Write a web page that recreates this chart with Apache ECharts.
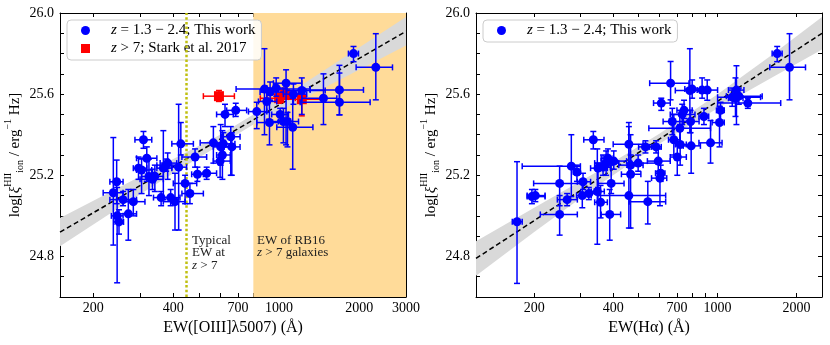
<!DOCTYPE html>
<html>
<head>
<meta charset="utf-8">
<script src="https://cdn.jsdelivr.net/npm/echarts@6/dist/echarts.min.js"></script>
<style>
  html, body { margin: 0; padding: 0; background: #fff; }
  #chart { width: 830px; height: 345px; }
</style>
</head>
<body>
<div id="chart"></div>
<script>
// rows: [EW, log xi, EW low, EW high, xi low, xi high]
var oiiiThisWork = [
  [238, 25.114, 218, 259, 24.856, 25.386], [245, 25.168, 231, 259, 25.06, 25.275],
  [246, 25.00, 234, 259, 24.67, 25.14], [250, 24.97, 239, 260, 24.91, 25.03],
  [259, 25.08, 231, 291, 25.05, 25.12], [271, 25.01, 248, 291, 24.88, 25.13],
  [283, 25.07, 259, 313, 25.00, 25.13], [309, 25.375, 287, 332, 25.333, 25.416],
  [296, 25.235, 283, 318, 25.18, 25.29], [304, 25.226, 291, 332, 25.11, 25.28],
  [318, 25.284, 291, 347, 25.17, 25.34], [324, 25.194, 304, 347, 25.10, 25.28],
  [334, 25.18, 300, 367, 25.13, 25.23], [341, 25.195, 322, 367, 25.12, 25.25],
  [360, 25.09, 337, 389, 25.05, 25.12], [367, 25.235, 347, 395, 25.08, 25.42],
  [376, 25.25, 347, 412, 25.22, 25.28], [381, 25.26, 357, 412, 25.18, 25.31],
  [391, 25.09, 367, 424, 25.05, 25.13], [406, 25.07, 367, 443, 24.93, 25.21],
  [419, 25.24, 395, 449, 24.93, 25.55], [427, 25.355, 395, 476, 25.30, 25.46],
  [443, 25.16, 400, 490, 25.06, 25.20], [462, 25.11, 431, 519, 25.06, 25.16],
  [483, 25.29, 431, 534, 25.24, 25.33], [493, 25.205, 469, 519, 25.17, 25.24],
  [534, 25.21, 490, 582, 25.18, 25.24], [566, 25.36, 505, 626, 25.26, 25.44],
  [600, 25.27, 566, 655, 25.19, 25.29], [603, 25.34, 566, 655, 25.25, 25.45],
  [612, 25.30, 582, 655, 25.18, 25.42], [626, 25.50, 582, 673, 25.44, 25.55],
  [658, 25.39, 608, 713, 25.20, 25.44], [664, 25.34, 621, 713, 25.20, 25.41],
  [687, 25.52, 635, 755, 25.49, 25.555], [617, 25.355, 582, 682, 25.30, 25.41],
  [824, 25.514, 767, 899, 25.43, 25.56], [881, 25.625, 689, 1308, 25.40, 25.824],
  [925, 25.61, 848, 1038, 25.57, 25.66], [920, 25.46, 824, 1038, 25.35, 25.57],
  [899, 25.564, 836, 980, 25.51, 25.63], [975, 25.63, 899, 1068, 25.59, 25.68],
  [1062, 25.654, 952, 1217, 25.35, 25.72], [1009, 25.50, 938, 1084, 25.47, 25.53],
  [1038, 25.465, 899, 1100, 25.36, 25.53], [1075, 25.465, 994, 1183, 25.34, 25.51],
  [1125, 25.437, 980, 1340, 25.23, 25.58], [1132, 25.60, 1038, 1270, 25.55, 25.65],
  [1217, 25.618, 1068, 1490, 25.50, 25.68], [1468, 25.58, 1217, 1648, 25.45, 25.70],
  [1686, 25.621, 1308, 2076, 25.498, 25.742], [1686, 25.56, 1200, 2199, 25.498, 25.704],
  [1904, 25.80, 1822, 1988, 25.76, 25.835], [2310, 25.732, 1948, 2669, 25.572, 25.898]
];
var oiiiStark = [
  [594, 25.59, 519, 679, 25.564, 25.618], [1000, 25.58, 850, 1150, 25.555, 25.605],
  [1053, 25.60, 900, 1200, 25.58, 25.63], [1217, 25.575, 1000, 1468, 25.493, 25.62]
];
var haThisWork = [
  [172, 24.971, 165, 180, 24.667, 25.267], [196, 25.095, 188, 220, 25.06, 25.13],
  [202, 25.10, 188, 220, 25.07, 25.13], [250, 25.16, 199, 309, 25.05, 25.245],
  [250, 25.007, 211, 292, 24.905, 25.10], [277, 25.245, 180, 300, 25.095, 25.40],
  [291, 25.216, 282, 300, 25.17, 25.25], [307, 25.168, 292, 328, 25.13, 25.21],
  [305, 25.10, 290, 330, 25.04, 25.16], [267, 25.08, 245, 292, 25.05, 25.11],
  [323, 25.11, 300, 350, 25.08, 25.14], [336, 25.375, 309, 369, 25.33, 25.416],
  [350, 25.235, 328, 380, 25.14, 25.26], [348, 25.12, 330, 370, 24.86, 25.33],
  [358, 25.067, 340, 380, 24.99, 25.15], [366, 25.24, 345, 390, 25.20, 25.30],
  [376, 25.26, 340, 420, 25.20, 25.32], [382, 25.284, 360, 400, 25.24, 25.33],
  [388, 25.007, 360, 427, 24.88, 25.13], [393, 25.16, 350, 440, 25.11, 25.25],
  [402, 25.27, 360, 450, 25.23, 25.32], [459, 25.353, 400, 520, 25.24, 25.46],
  [459, 25.10, 350, 634, 24.94, 25.44], [466, 25.25, 420, 520, 25.20, 25.30],
  [466, 25.205, 430, 510, 24.94, 25.40], [498, 25.26, 470, 600, 25.22, 25.30],
  [531, 25.34, 500, 560, 25.31, 25.37], [542, 25.07, 460, 634, 24.96, 25.17],
  [583, 25.34, 550, 610, 25.31, 25.37], [594, 25.27, 540, 660, 25.22, 25.33],
  [607, 25.21, 580, 630, 25.17, 25.25], [603, 25.186, 560, 640, 25.05, 25.22],
  [610, 25.556, 570, 660, 25.52, 25.58], [662, 25.654, 551, 778, 25.572, 25.761],
  [672, 25.465, 620, 780, 25.40, 25.53], [681, 25.375, 650, 720, 25.30, 25.50],
  [702, 25.29, 660, 760, 25.20, 25.36], [718, 25.432, 547, 940, 25.36, 25.50],
  [733, 25.50, 660, 820, 25.45, 25.55], [745, 25.52, 700, 800, 25.48, 25.57],
  [720, 25.352, 690, 760, 25.25, 25.45], [784, 25.618, 690, 900, 25.41, 25.824],
  [800, 25.625, 750, 860, 25.58, 25.67], [789, 25.465, 740, 850, 25.41, 25.52],
  [793, 25.345, 740, 860, 25.21, 25.473], [873, 25.62, 836, 920, 25.58, 25.68],
  [887, 25.49, 849, 925, 25.45, 25.53], [913, 25.62, 860, 1000, 25.57, 25.67],
  [940, 25.36, 849, 1040, 25.26, 25.47], [1017, 25.46, 953, 1060, 25.34, 25.54],
  [1026, 25.52, 990, 1060, 25.46, 25.56], [1137, 25.585, 1000, 1458, 25.54, 25.63],
  [1170, 25.58, 1100, 1250, 25.49, 25.68], [1180, 25.62, 1100, 1260, 25.45, 25.74],
  [1205, 25.59, 1080, 1479, 25.55, 25.63], [1304, 25.556, 1000, 1740, 25.53, 25.58],
  [1687, 25.80, 1614, 1762, 25.76, 25.835], [1880, 25.732, 1581, 2163, 25.572, 25.898]
];

// best fit lines and their grey bands: [EW, xi] and [EW, low, high]
var oiiiFit = [[150, 24.92], [3000, 25.91]];
var oiiiBand = [[150, 24.85, 24.99], [250, 25.04, 25.14], [400, 25.21, 25.28], [600, 25.35, 25.40],
  [800, 25.45, 25.50], [1200, 25.57, 25.64], [2000, 25.72, 25.83], [3000, 25.84, 25.98]];
var haFit = [[120, 24.79], [2500, 25.90]];
var haBand = [[120, 24.705, 24.875], [200, 24.92, 25.04], [350, 25.15, 25.22], [600, 25.355, 25.405],
  [1000, 25.53, 25.60], [1600, 25.68, 25.79], [2500, 25.82, 25.98]];

var typicalEw = 450;
var rb16Range = [800, 3000];

var oiiiRange = [150, 3000];
var haRange = [120, 2500];
var xiRange = [24.6, 26.0];
var oiiiLabels = [200, 400, 700, 1000, 2000, 3000];
var haLabels = [200, 400, 700, 1000, 2000];
var ewMinor = [300, 500, 600, 800, 900];
var xiLabels = [24.8, 25.2, 25.6, 26.0];
var xiMinor = [24.7, 24.9, 25.0, 25.1, 25.3, 25.4, 25.5, 25.7, 25.8, 25.9];

var FONT = 'Liberation Serif';
var lg = Math.log10;
var chart = echarts.init(document.getElementById('chart'));

function errRows(rows) {
  return rows.map(function (r) { return [lg(r[0]), r[1], lg(r[2]), lg(r[3]), r[4], r[5]]; });
}
function ptRows(rows) {
  return rows.map(function (r) { return [lg(r[0]), r[1]]; });
}

function renderErr(params, api) {
  var x = api.value(0), y = api.value(1);
  var pl = api.coord([api.value(2), y]), ph = api.coord([api.value(3), y]);
  var pb = api.coord([x, api.value(4)]), pt = api.coord([x, api.value(5)]);
  var cap = 3;
  var st = { stroke: api.visual('color'), lineWidth: 1.5 };
  function seg(x1, y1, x2, y2) {
    return { type: 'line', shape: { x1: x1, y1: y1, x2: x2, y2: y2 }, style: st };
  }
  return { type: 'group', children: [
    seg(pl[0], pl[1], ph[0], ph[1]),
    seg(pb[0], pb[1], pt[0], pt[1]),
    seg(pl[0], pl[1] - cap, pl[0], pl[1] + cap),
    seg(ph[0], ph[1] - cap, ph[0], ph[1] + cap),
    seg(pb[0] - cap, pb[1], pb[0] + cap, pb[1]),
    seg(pt[0] - cap, pt[1], pt[0] + cap, pt[1])
  ]};
}

function bandRenderer(band) {
  return function (params, api) {
    if (params.dataIndex !== 0) return null;
    var upper = band.map(function (b) { return api.coord([lg(b[0]), b[2]]); });
    var lower = band.map(function (b) { return api.coord([lg(b[0]), b[1]]); }).reverse();
    return { type: 'polygon', shape: { points: upper.concat(lower) }, style: { fill: '#d9d9d9' } };
  };
}

function xAxes(grid, range, labels, name) {
  var ticks = labels.concat(ewMinor).map(lg);
  var base = {
    type: 'value', gridIndex: grid, min: lg(range[0]), max: lg(range[1]),
    splitLine: { show: false },
    axisLine: { onZero: false, lineStyle: { color: '#000', width: 1 } },
    axisTick: { inside: true, length: 4, customValues: ticks, lineStyle: { color: '#000' } }
  };
  return [
    Object.assign({}, base, {
      position: 'bottom', name: name, nameLocation: 'middle', nameGap: 21,
      nameTextStyle: { fontFamily: FONT, fontSize: 16, color: '#000' },
      axisLabel: {
        customValues: labels.map(lg), margin: 4, color: '#000', fontFamily: FONT, fontSize: 14,
        formatter: function (v) { return String(Math.round(Math.pow(10, v))); }
      }
    }),
    Object.assign({}, base, { position: 'top', axisLabel: { show: false } })
  ];
}

function yAxes(grid) {
  var base = {
    type: 'value', gridIndex: grid, min: xiRange[0], max: xiRange[1],
    splitLine: { show: false },
    axisLine: { onZero: false, lineStyle: { color: '#000', width: 1 } },
    axisTick: { inside: true, length: 4, customValues: xiLabels.concat(xiMinor), lineStyle: { color: '#000' } }
  };
  return [
    Object.assign({}, base, {
      position: 'left',
      name: 'log[{it|ξ}{sup|HII}{sub|ion} / erg{sup|−1} Hz]',
      nameLocation: 'middle', nameRotate: 90, nameGap: 34,
      nameTextStyle: {
        fontFamily: FONT, fontSize: 15, color: '#000', lineHeight: 22,
        rich: {
          it: { fontFamily: FONT, fontSize: 15, fontStyle: 'italic', color: '#000' },
          sup: { fontFamily: FONT, fontSize: 10, lineHeight: 12, verticalAlign: 'top', color: '#000' },
          sub: { fontFamily: FONT, fontSize: 10, lineHeight: 12, verticalAlign: 'bottom', color: '#000' }
        }
      },
      axisLabel: {
        customValues: xiLabels, margin: 6, color: '#000', fontFamily: FONT, fontSize: 14,
        formatter: function (v) { return v.toFixed(1); }
      }
    }),
    Object.assign({}, base, { position: 'right', axisLabel: { show: false } })
  ];
}

var legendNames = {
  oiiiThis: '{i|z} = 1.3 − 2.4; This work',
  oiiiStark: '{i|z} > 7; Stark et al. 2017',
  haThis: '{i|z} = 1.3 − 2.4; This work'
};
function legendBox(names, left) {
  return {
    data: names, orient: 'vertical', left: left, top: 20,
    itemWidth: 9, itemHeight: 9, itemGap: 3, padding: [3, 6, 4, 14],
    backgroundColor: 'rgba(255,255,255,0.85)', borderColor: '#cccccc', borderWidth: 1, borderRadius: 4,
    formatter: function (n) { return legendNames[n]; },
    textStyle: {
      fontFamily: FONT, fontSize: 15, color: '#000', padding: [0, 0, 0, 16],
      rich: { i: { fontFamily: FONT, fontSize: 15, fontStyle: 'italic', color: '#000' } }
    }
  };
}

var blue = '#0000ff';
var red = '#ff0000';

var option = {
  backgroundColor: '#fff',
  animation: false,
  grid: [
    { left: 60, top: 13, width: 346, height: 284 },
    { left: 476, top: 13, width: 346, height: 284 }
  ],
  xAxis: xAxes(0, oiiiRange, oiiiLabels, 'EW([OIII]λ5007) (Å)').concat(xAxes(1, haRange, haLabels, 'EW(Hα) (Å)')),
  yAxis: yAxes(0).concat(yAxes(1)),
  legend: [legendBox(['oiiiThis', 'oiiiStark'], 67), legendBox(['haThis'], 483)],
  graphic: [
    { type: 'text', left: 192, top: 234, z: 100, style: {
      text: 'Typical\nEW at\n{i|z} > 7', fontFamily: FONT, fontSize: 13, lineHeight: 12.5, fill: '#222',
      rich: { i: { fontFamily: FONT, fontSize: 13, fontStyle: 'italic', fill: '#222' } } } },
    { type: 'text', left: 257, top: 234, z: 100, style: {
      text: 'EW of RB16\n{i|z} > 7 galaxies', fontFamily: FONT, fontSize: 13, lineHeight: 12.5, fill: '#222',
      rich: { i: { fontFamily: FONT, fontSize: 13, fontStyle: 'italic', fill: '#222' } } } }
  ],
  series: [
    {
      type: 'line', name: 'regions', xAxisIndex: 0, yAxisIndex: 0, data: [], z: 1, silent: true,
      markArea: {
        silent: true, itemStyle: { color: '#ffdb99' },
        data: [[{ xAxis: lg(rb16Range[0]), yAxis: xiRange[0] }, { xAxis: lg(rb16Range[1]), yAxis: xiRange[1] }]]
      },
      markLine: {
        silent: true, symbol: ['none', 'none'], label: { show: false },
        lineStyle: { color: '#c0c010', type: [2.5, 2.2], width: 2.5 },
        data: [{ xAxis: lg(typicalEw) }]
      }
    },
    { type: 'custom', name: 'oiiiBand', xAxisIndex: 0, yAxisIndex: 0, z: 2, silent: true,
      renderItem: bandRenderer(oiiiBand), data: ptRows(oiiiBand), encode: { x: 0, y: 1 } },
    { type: 'line', name: 'oiiiFit', xAxisIndex: 0, yAxisIndex: 0, z: 3, silent: true, symbol: 'none',
      lineStyle: { color: '#000', width: 1.5, type: [5, 3] }, data: ptRows(oiiiFit) },
    { type: 'custom', name: 'oiiiStarkErr', xAxisIndex: 0, yAxisIndex: 0, z: 4,
      itemStyle: { color: red }, renderItem: renderErr, data: errRows(oiiiStark), encode: { x: 0, y: 1 } },
    { type: 'scatter', name: 'oiiiStark', xAxisIndex: 0, yAxisIndex: 0, z: 5,
      symbol: 'rect', symbolSize: 10, itemStyle: { color: red, opacity: 1 }, data: ptRows(oiiiStark) },
    { type: 'custom', name: 'oiiiThisErr', xAxisIndex: 0, yAxisIndex: 0, z: 6,
      itemStyle: { color: blue }, renderItem: renderErr, data: errRows(oiiiThisWork), encode: { x: 0, y: 1 } },
    { type: 'scatter', name: 'oiiiThis', xAxisIndex: 0, yAxisIndex: 0, z: 7,
      symbol: 'circle', symbolSize: 9, itemStyle: { color: blue, opacity: 1 }, data: ptRows(oiiiThisWork) },

    { type: 'custom', name: 'haBand', xAxisIndex: 2, yAxisIndex: 2, z: 2, silent: true,
      renderItem: bandRenderer(haBand), data: ptRows(haBand), encode: { x: 0, y: 1 } },
    { type: 'line', name: 'haFit', xAxisIndex: 2, yAxisIndex: 2, z: 3, silent: true, symbol: 'none',
      lineStyle: { color: '#000', width: 1.5, type: [5, 3] }, data: ptRows(haFit) },
    { type: 'custom', name: 'haThisErr', xAxisIndex: 2, yAxisIndex: 2, z: 6,
      itemStyle: { color: blue }, renderItem: renderErr, data: errRows(haThisWork), encode: { x: 0, y: 1 } },
    { type: 'scatter', name: 'haThis', xAxisIndex: 2, yAxisIndex: 2, z: 7,
      symbol: 'circle', symbolSize: 9, itemStyle: { color: blue, opacity: 1 }, data: ptRows(haThisWork) }
  ]
};

chart.setOption(option);
</script>
</body>
</html>
